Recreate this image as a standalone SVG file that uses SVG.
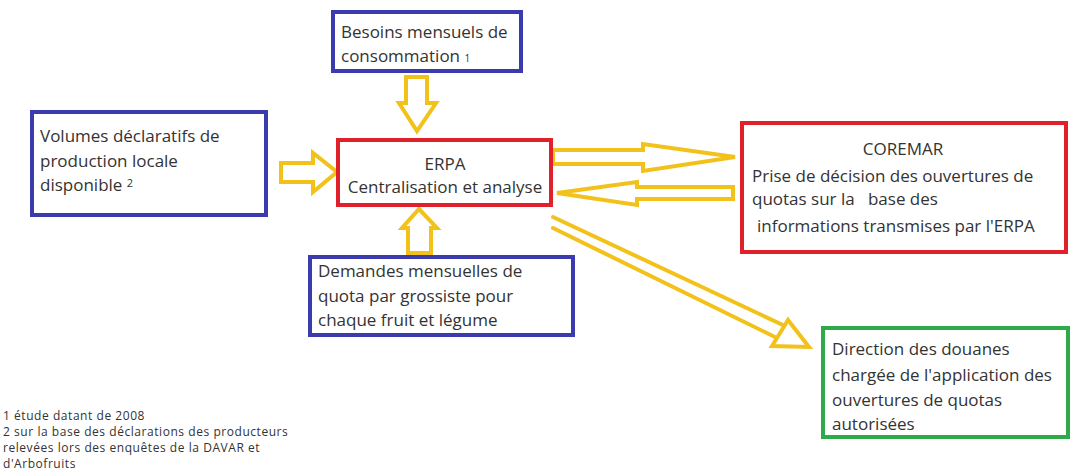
<svg xmlns="http://www.w3.org/2000/svg" width="1071" height="475" viewBox="0 0 1071 475">
<style>
.box{fill:#fff;stroke-width:4}
.blue{stroke:#3b3bad}
.red{stroke:#e0202a}
.green{stroke:#2eaa4a}
.t{font-family:"Open Sans","Liberation Sans",Arial,sans-serif;font-size:17px;fill:#333}
.fn{font-family:"Open Sans","Liberation Sans",Arial,sans-serif;font-size:12px;letter-spacing:0.55px;fill:#333}
.arr{fill:#fff;stroke:#f2c21b;stroke-width:4;stroke-linejoin:miter}
.ln{stroke:#f2c21b;stroke-width:4;fill:none;stroke-linecap:round}
</style>
<rect width="1071" height="475" fill="#fff"/>
<g id="connectors">
<polygon class="arr" points="406,77 427,77 427,103 436,103 417,131 399,103 406,103"/>
<polygon class="arr" points="281,163 313,163 313,153 337,172 313,192 313,182 281,182"/>
<polygon class="arr" points="408,253 408,228 402,228 419,209 437,228 431,228 431,253"/>
<polygon class="arr" points="553,150 643,150 643,144 735,157 643,171 643,164 553,164"/>
<polygon class="arr" points="733,187 637,187 637,182 557,193 637,205 637,199 733,199"/>
<line class="ln" x1="553" y1="217" x2="785" y2="326"/>
<line class="ln" x1="553" y1="228" x2="777" y2="338"/>
<polygon class="arr" points="788,320 772,346 809,347"/>
</g>
<g id="besoins">
<rect class="box blue" x="333" y="12" width="188" height="59"/>
<text class="t" x="341" y="38">Besoins mensuels de</text>
<text class="t" x="341" y="62">consommation <tspan font-size="10">1</tspan></text>
</g>
<g id="volumes">
<rect class="box blue" x="32" y="112" width="234" height="103"/>
<text class="t" x="40" y="142">Volumes déclaratifs de</text>
<text class="t" x="40" y="167">production locale</text>
<text class="t" x="40" y="191">disponible <tspan font-size="11" dy="-4">2</tspan></text>
</g>
<g id="erpa">
<rect class="box red" x="338" y="140" width="213" height="65"/>
<text class="t" x="445" y="170" text-anchor="middle">ERPA</text>
<text class="t" x="445" y="193" text-anchor="middle">Centralisation et analyse</text>
</g>
<g id="demandes">
<rect class="box blue" x="310" y="257" width="263" height="78"/>
<text class="t" x="318" y="277">Demandes mensuelles de</text>
<text class="t" x="318" y="302">quota par grossiste pour</text>
<text class="t" x="318" y="326">chaque fruit et légume</text>
</g>
<g id="coremar">
<rect class="box red" x="742" y="123" width="324" height="129"/>
<text class="t" x="903" y="155" text-anchor="middle">COREMAR</text>
<text class="t" x="752" y="182">Prise de décision des ouvertures de</text>
<text class="t" x="752" y="205" xml:space="preserve">quotas sur la   base des</text>
<text class="t" x="757" y="232">informations transmises par l'ERPA</text>
</g>
<g id="douanes">
<rect class="box green" x="823" y="328" width="245" height="109"/>
<text class="t" x="832" y="355">Direction des douanes</text>
<text class="t" x="832" y="381">chargée de l'application des</text>
<text class="t" x="832" y="406">ouvertures de quotas</text>
<text class="t" x="832" y="430">autorisées</text>
</g>
<g id="footnotes">
<text class="fn" x="3" y="420">1 étude datant de 2008</text>
<text class="fn" x="3" y="436">2 sur la base des déclarations des producteurs</text>
<text class="fn" x="3" y="452">relevées lors des enquêtes de la DAVAR et</text>
<text class="fn" x="3" y="468">d'Arbofruits</text>
</g>
</svg>
